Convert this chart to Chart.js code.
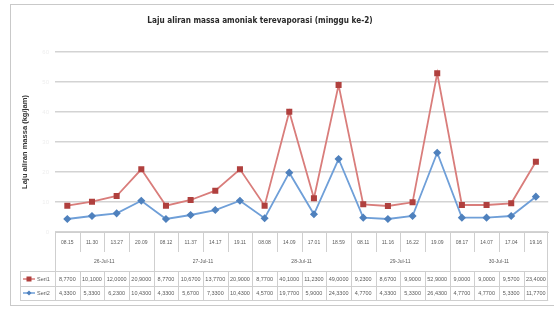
<!DOCTYPE html>
<html>
<head>
<meta charset="utf-8">
<script src="https://cdn.jsdelivr.net/npm/chart.js@4.4.1/dist/chart.umd.min.js"></script>
<style>
    html, body { margin: 0; padding: 0; background: #fff; }
    #wrap { position: relative; width: 554px; height: 316px; }
</style>
</head>
<body>
<div id="wrap"><canvas id="chart" width="554" height="316"></canvas></div>
<script>
var times = ['08.15', '11.30', '13.27', '20.09',
             '08.12', '11.37', '14.17', '19.11',
             '08.08', '14.09', '17.01', '18.59',
             '08.11', '11.16', '16.22', '19.09',
             '08.17', '14.07', '17.04', '19.16'];
var days = ['26-Jul-11', '27-Jul-11', '28-Jul-11', '29-Jul-11', '30-Jul-11'];
var seriesNames = ['Seri1', 'Seri2'];
var seri1 = [8.77, 10.10, 12.00, 20.90, 8.77, 10.67, 13.77, 20.90, 8.77, 40.10,
             11.23, 49.00, 9.23, 8.67, 9.90, 52.90, 9.00, 9.00, 9.57, 23.40];
var seri2 = [4.33, 5.33, 6.23, 10.43, 4.33, 5.67, 7.33, 10.43, 4.57, 19.77,
             5.90, 24.33, 4.77, 4.33, 5.33, 26.43, 4.77, 4.77, 5.33, 11.77];
var yTicks = [0, 10, 20, 30, 40, 50, 60];
var title = 'Laju aliran massa amoniak terevaporasi (minggu ke-2)';

var RED = '#b0403e', RED_LINE = '#d97d7b';
var BLUE = '#4f81bd', BLUE_LINE = '#6f9fd8';
var FONT = "'Liberation Sans', Arial, sans-serif";
var TITLE_FONT = "'DejaVu Sans Condensed', 'Liberation Sans', sans-serif";

function fmt(v) {
    return v.toFixed(4).replace('.', ',');
}

// frame and title (the title sits left of centre in the original)
var framePlugin = {
    id: 'frame',
    beforeDraw: function (chart) {
        var ctx = chart.ctx;
        ctx.save();
        ctx.strokeStyle = '#c9c9c9';
        ctx.lineWidth = 1;
        ctx.strokeRect(10.5, 4.5, 560, 301);

        ctx.font = 'bold 9px ' + TITLE_FONT;
        var size = 9 * 226 / ctx.measureText(title).width;
        ctx.font = 'bold ' + size.toFixed(2) + 'px ' + TITLE_FONT;
        ctx.fillStyle = '#2a2a2a';
        ctx.textAlign = 'center';
        ctx.textBaseline = 'middle';
        ctx.fillText(title, 260, 21);
        ctx.restore();
    }
};

// data table under the x axis
var tablePlugin = {
    id: 'dataTable',
    afterDraw: function (chart) {
        var ctx = chart.ctx,
            x = chart.scales.x,
            area = chart.chartArea,
            n = times.length,
            w = (x.right - x.left) / n,
            top = area.bottom,
            rowTop = 271, rowMid = 286, rowBot = 300,
            i, g, bx;

        function edge(i) {
            if (i == n) return Math.round(x.getPixelForValue(n - 1) + w / 2) - 0.5;
            return Math.round(x.getPixelForValue(i) - w / 2) + 0.5;
        }

        ctx.save();
        ctx.strokeStyle = '#cfcfcf';
        ctx.lineWidth = 1;

        // column lines in the time row, day borders run down further
        ctx.beginPath();
        for (i = 0; i <= n; i++) {
            bx = edge(i);
            ctx.moveTo(bx, top);
            ctx.lineTo(bx, (i % 4 === 0 || i == n) ? rowTop : 252);
        }
        ctx.stroke();

        // data rows
        ctx.beginPath();
        [rowTop, rowMid, rowBot].forEach(function (yy) {
            ctx.moveTo(20, yy + 0.5);
            ctx.lineTo(x.right, yy + 0.5);
        });
        ctx.moveTo(20.5, rowTop);
        ctx.lineTo(20.5, rowBot);
        for (i = 0; i <= n; i++) {
            bx = edge(i);
            ctx.moveTo(bx, rowTop);
            ctx.lineTo(bx, rowBot);
        }
        ctx.stroke();

        ctx.fillStyle = '#5a5a5a';
        ctx.textAlign = 'center';
        ctx.textBaseline = 'middle';

        ctx.font = '5px ' + FONT;
        for (i = 0; i < n; i++) {
            ctx.fillText(times[i], x.getPixelForValue(i), 243);
        }
        for (g = 0; g < days.length; g++) {
            var cx = (x.getPixelForValue(g * 4) + x.getPixelForValue(g * 4 + 3)) / 2;
            ctx.fillText(days[g], cx, 262);
        }

        ctx.font = '5.5px ' + FONT;
        for (i = 0; i < n; i++) {
            ctx.fillText(fmt(seri1[i]), x.getPixelForValue(i), 279);
            ctx.fillText(fmt(seri2[i]), x.getPixelForValue(i), 293);
        }

        // legend keys
        [[RED_LINE, RED, 'rect', 279, seriesNames[0]], [BLUE_LINE, BLUE, 'rectRot', 293, seriesNames[1]]].forEach(function (k) {
            ctx.strokeStyle = k[0];
            ctx.lineWidth = 1.5;
            ctx.beginPath();
            ctx.moveTo(23, k[3]);
            ctx.lineTo(35, k[3]);
            ctx.stroke();
            ctx.fillStyle = k[1];
            if (k[2] == 'rect') {
                ctx.fillRect(26.5, k[3] - 2.5, 5, 5);
            } else {
                ctx.beginPath();
                ctx.moveTo(29, k[3] - 2.5);
                ctx.lineTo(31.5, k[3]);
                ctx.lineTo(29, k[3] + 2.5);
                ctx.lineTo(26.5, k[3]);
                ctx.closePath();
                ctx.fill();
            }
            ctx.fillStyle = '#5a5a5a';
            ctx.textAlign = 'left';
            ctx.font = '5.5px ' + FONT;
            ctx.fillText(k[4], 37, k[3]);
        });

        ctx.restore();
    }
};

new Chart(document.getElementById('chart'), {
    type: 'line',
    data: {
        labels: times,
        datasets: [
            {
                label: seriesNames[0],
                data: seri1,
                borderColor: RED_LINE,
                backgroundColor: RED,
                pointBackgroundColor: RED,
                pointBorderColor: RED,
                pointStyle: 'rect',
                pointRadius: 3,
                borderWidth: 1.8,
                tension: 0
            },
            {
                label: seriesNames[1],
                data: seri2,
                borderColor: BLUE_LINE,
                backgroundColor: BLUE,
                pointBackgroundColor: BLUE,
                pointBorderColor: BLUE,
                pointStyle: 'rectRot',
                pointRadius: 2.8,
                borderWidth: 1.8,
                tension: 0
            }
        ]
    },
    options: {
        responsive: false,
        animation: false,
        layout: { padding: { left: 20, right: 4, top: 52, bottom: 0 } },
        plugins: {
            legend: { display: false },
            tooltip: { enabled: false },
            title: { display: false }
        },
        scales: {
            x: {
                offset: true,
                grid: { display: false },
                border: { color: '#cfcfcf' },
                ticks: { display: false },
                afterFit: function (scale) { scale.height = 84; }
            },
            y: {
                min: 0,
                max: 60,
                afterBuildTicks: function (scale) {
                    scale.ticks = yTicks.map(function (v) { return { value: v }; });
                },
                grid: { color: '#d3d3d3', lineWidth: 1.6, drawTicks: false },
                border: { display: false },
                ticks: { color: '#eeeeee', font: { size: 6, family: FONT }, padding: 6 },
                title: {
                    display: true,
                    text: 'Laju aliran massa (kg/jam)',
                    color: '#333',
                    font: { size: 7.5, weight: 'bold', family: FONT },
                    padding: 0
                },
                afterFit: function (scale) { scale.width = 35; }
            }
        }
    },
    plugins: [framePlugin, tablePlugin]
});
</script>
</body>
</html>
